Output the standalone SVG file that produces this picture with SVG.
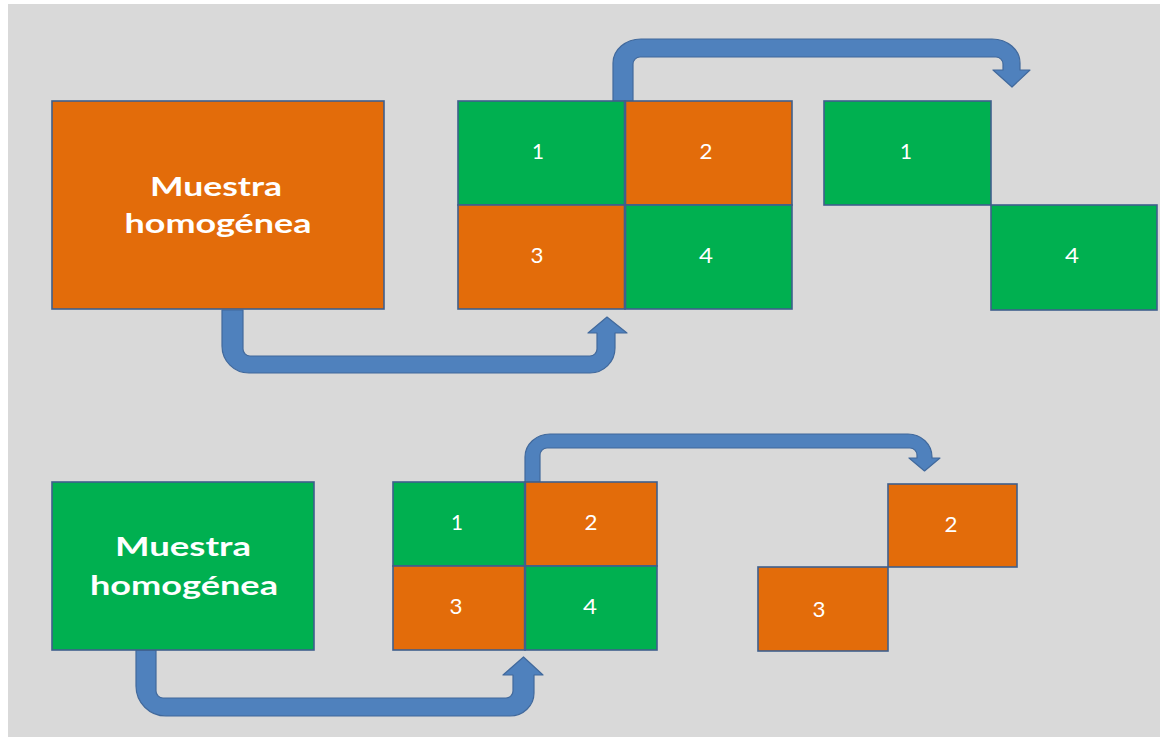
<svg xmlns="http://www.w3.org/2000/svg" width="1160" height="737" viewBox="0 0 1160 737">
  <style>
    .bg { fill: #ffffff; }
    .panel { fill: #d9d9d9; }
    .cell { stroke: #3f5f8c; stroke-width: 1.6; }
    .orange { fill: #e36c0a; }
    .green { fill: #00b050; }
    .arrow { fill: #4f81bd; stroke: #41699c; stroke-width: 1.2; stroke-linejoin: round; }
    .title { font-family: Lato, "Open Sans", sans-serif; font-weight: 700; font-size: 26px; fill: #ffffff; text-anchor: middle; }
    .num { font-family: Lato, "Open Sans", sans-serif; font-size: 21px; fill: #ffffff; text-anchor: middle; }
  </style>

  <rect class="bg" x="0" y="0" width="1160" height="737"/>
  <rect class="panel" x="8" y="4" width="1152" height="733"/>

  <!-- bent block arrows -->
  <g id="connectors">
    <!-- top sample down and around into the upper grid -->
    <path class="arrow" d="M 222 310 V 346 A 27 27 0 0 0 249 373 H 590 A 25 25 0 0 0 615 348 V 333 H 627 L 607 317 L 588 333 H 597 V 349 A 7 7 0 0 1 590 356 H 250 A 7 7 0 0 1 243 349 V 310 Z"/>
    <!-- upper grid over the top to the selected cells -->
    <path class="arrow" d="M 613 101 V 63 A 28 24 0 0 1 641 39 H 992 A 28 24 0 0 1 1020 63 V 70 H 1030 L 1012 87 L 993 70 H 1003 V 64 A 7 7 0 0 0 996 57 H 640 A 7 7 0 0 0 633 64 V 101 Z"/>
    <!-- lower sample down and around into the lower grid -->
    <path class="arrow" d="M 136 650 V 686 A 30 30 0 0 0 166 716 H 510 A 24 23 0 0 0 534 693 V 675 H 543 L 523.5 657 L 503 675 H 513 V 691 A 7 7 0 0 1 506 698 H 163 A 7 7 0 0 1 156 691 V 650 Z"/>
    <!-- lower grid over the top to the selected cells -->
    <path class="arrow" d="M 525 482 V 457 A 25 23 0 0 1 550 434 H 908 A 24 23 0 0 1 932 457 V 458 H 940 L 924.5 471 L 909 458 H 917 V 455 A 7 7 0 0 0 910 448 H 547 A 7 7 0 0 0 540 455 V 482 Z"/>
  </g>

  <!-- upper row -->
  <g id="sample-top">
    <rect class="cell orange" x="52" y="101" width="332" height="208"/>
    <text class="title" x="216" y="196" textLength="132" lengthAdjust="spacingAndGlyphs">Muestra</text>
    <text class="title" x="218" y="233" textLength="187" lengthAdjust="spacingAndGlyphs">homogénea</text>
  </g>

  <g id="grid-top">
    <rect class="cell green" x="458" y="101" width="167" height="104"/>
    <rect class="cell orange" x="625" y="101" width="167" height="104"/>
    <rect class="cell orange" x="458" y="205" width="167" height="104"/>
    <rect class="cell green" x="625" y="205" width="167" height="104"/>
    <line x1="625" y1="101" x2="625" y2="309" stroke="#3f5f8c" stroke-width="2.6"/>
    <text class="num" x="538" y="159" textLength="12" lengthAdjust="spacingAndGlyphs">1</text>
    <text class="num" x="706" y="159" textLength="13" lengthAdjust="spacingAndGlyphs">2</text>
    <text class="num" x="537" y="263" textLength="13" lengthAdjust="spacingAndGlyphs">3</text>
    <text class="num" x="706" y="263" textLength="14" lengthAdjust="spacingAndGlyphs">4</text>
  </g>

  <g id="picked-top-1">
    <rect class="cell green" x="824" y="101" width="167" height="104"/>
    <text class="num" x="906" y="159" textLength="12" lengthAdjust="spacingAndGlyphs">1</text>
  </g>
  <g id="picked-top-4">
    <rect class="cell green" x="991" y="205" width="166" height="105"/>
    <text class="num" x="1072" y="263" textLength="14" lengthAdjust="spacingAndGlyphs">4</text>
  </g>

  <!-- lower row -->
  <g id="sample-bottom">
    <rect class="cell green" x="52" y="482" width="262" height="168"/>
    <text class="title" x="183" y="556" textLength="136" lengthAdjust="spacingAndGlyphs">Muestra</text>
    <text class="title" x="184" y="595" textLength="188" lengthAdjust="spacingAndGlyphs">homogénea</text>
  </g>

  <g id="grid-bottom">
    <rect class="cell green" x="393" y="482" width="132" height="84"/>
    <rect class="cell orange" x="525" y="482" width="132" height="84"/>
    <rect class="cell orange" x="393" y="566" width="132" height="84"/>
    <rect class="cell green" x="525" y="566" width="132" height="84"/>
    <line x1="525" y1="482" x2="525" y2="650" stroke="#3f5f8c" stroke-width="2.4"/>
    <text class="num" x="457" y="530" textLength="12" lengthAdjust="spacingAndGlyphs">1</text>
    <text class="num" x="591" y="530" textLength="13" lengthAdjust="spacingAndGlyphs">2</text>
    <text class="num" x="456" y="614" textLength="13" lengthAdjust="spacingAndGlyphs">3</text>
    <text class="num" x="590" y="614" textLength="14" lengthAdjust="spacingAndGlyphs">4</text>
  </g>

  <g id="picked-bottom-2">
    <rect class="cell orange" x="888" y="484" width="129" height="83"/>
    <text class="num" x="951" y="532" textLength="13" lengthAdjust="spacingAndGlyphs">2</text>
  </g>
  <g id="picked-bottom-3">
    <rect class="cell orange" x="758" y="567" width="130" height="84"/>
    <text class="num" x="819" y="617" textLength="13" lengthAdjust="spacingAndGlyphs">3</text>
  </g>
</svg>
